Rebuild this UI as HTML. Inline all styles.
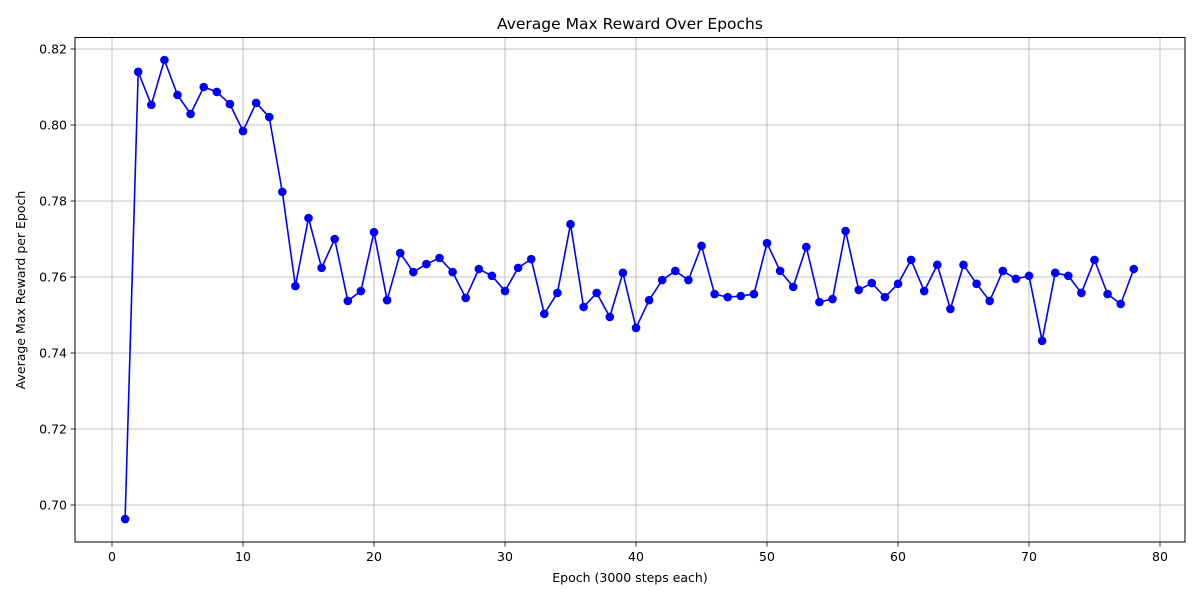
<!DOCTYPE html>
<html><head><meta charset="utf-8"><style>
html,body{margin:0;padding:0;background:#fff;}
svg{display:block;font-family:"DejaVu Sans","Liberation Sans",sans-serif;}
</style></head><body>
<svg id="chart" width="1200" height="600" viewBox="0 0 1200 600" xmlns="http://www.w3.org/2000/svg">
<rect width="1200" height="600" fill="#fff"/>
<g id="grid"></g>
<g id="series"></g>
<rect x="75" y="37.5" width="1110" height="504.5" fill="none" stroke="#000" stroke-width="1"/>
<g id="ticks"></g>
<text x="630" y="29" text-anchor="middle" font-size="15.5">Average Max Reward Over Epochs</text>
<text x="630" y="582" text-anchor="middle" font-size="12.5">Epoch (3000 steps each)</text>
<text transform="translate(25,290) rotate(-90)" text-anchor="middle" font-size="12.5">Average Max Reward per Epoch</text>
</svg>
<script>
const epochs = Array.from({length:78},(_,i)=>i+1);
const rewards = [0.6963,0.8140,0.8053,0.8171,0.8079,0.8029,0.8100,0.8087,0.8055,0.7984,
0.8058,0.8021,0.7824,0.7576,0.7755,0.7624,0.7700,0.7537,0.7563,0.7718,
0.7539,0.7663,0.7613,0.7634,0.7650,0.7613,0.7545,0.7621,0.7603,0.7563,
0.7624,0.7647,0.7503,0.7558,0.7739,0.7521,0.7558,0.7495,0.7611,0.7466,
0.7539,0.7592,0.7616,0.7592,0.7682,0.7555,0.7547,0.7550,0.7555,0.7689,
0.7616,0.7574,0.7679,0.7534,0.7542,0.7721,0.7566,0.7584,0.7547,0.7582,
0.7645,0.7563,0.7632,0.7516,0.7632,0.7582,0.7537,0.7616,0.7595,0.7603,
0.7432,0.7611,0.7603,0.7558,0.7645,0.7555,0.7529,0.7621];
const xTicks = [0,10,20,30,40,50,60,70,80];
const yTicks = [0.70,0.72,0.74,0.76,0.78,0.80,0.82];

const NS="http://www.w3.org/2000/svg";
const L=75,R=1185,T=37.5,B=542;
const xs=v=>112+(v-0)*(1160-112)/80;
const ys=v=>505-(v-0.70)*(505-49)/0.12;
function mk(tag,attrs,parent){const e=document.createElementNS(NS,tag);for(const k in attrs)e.setAttribute(k,attrs[k]);parent.appendChild(e);return e;}
const grid=document.getElementById('grid'),ticks=document.getElementById('ticks'),series=document.getElementById('series');
xTicks.forEach(t=>{
  const x=xs(t);
  const g=mk('line',{x1:x,x2:x,y1:T,y2:B,stroke:'#b0b0b0','stroke-width':0.8},grid);
  
  
  const tk=mk('line',{x1:x,x2:x,y1:B,y2:B+4.5,stroke:'#000','stroke-width':0.8},ticks);
  
  
  const tx=mk('text',{x:x,y:B+19,'text-anchor':'middle','font-size':12.5},ticks);
  tx.textContent=t;
  
  
});
yTicks.forEach(t=>{
  const y=ys(t);
  const g=mk('line',{x1:L,x2:R,y1:y,y2:y,stroke:'#b0b0b0','stroke-width':0.8},grid);
  
  
  const tk=mk('line',{x1:L-4.5,x2:L,y1:y,y2:y,stroke:'#000','stroke-width':0.8},ticks);
  
  
  const tx=mk('text',{x:L-8,y:y+4.5,'text-anchor':'end','font-size':12.5},ticks);
  tx.textContent=t.toFixed(2);
  
  
});
const pts=epochs.map((e,i)=>xs(e)+','+ys(rewards[i])).join(' ');
const line=mk('polyline',{points:pts,fill:'none',stroke:'#0000ff','stroke-width':1.6},series);


epochs.forEach((e,i)=>{
  const c=mk('circle',{cx:xs(e),cy:ys(rewards[i]),r:4.3,fill:'#0000ff'},series);
  
  
});
</script>
</body></html>
